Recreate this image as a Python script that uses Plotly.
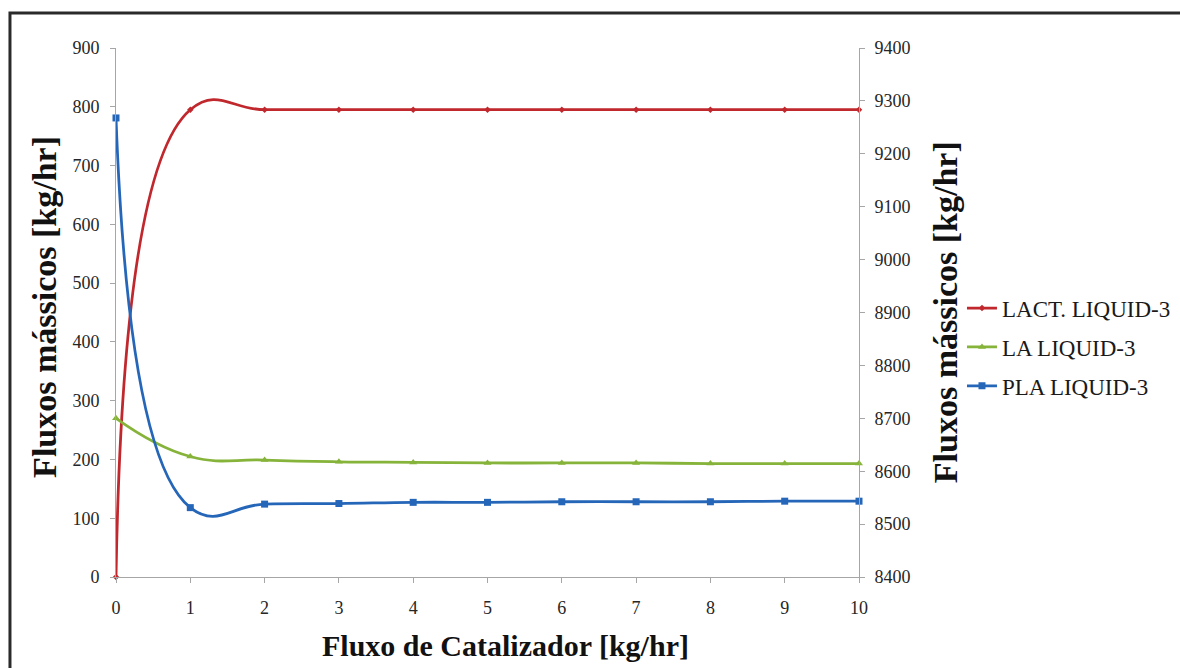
import plotly.graph_objects as go

catalyst = [0, 1, 2, 3, 4, 5, 6, 7, 8, 9, 10]
lact = [0, 795, 795, 795, 795, 795, 795, 795, 795, 795, 795]
la = [270, 205, 199, 196, 195, 194, 194, 194, 193, 193, 193]
pla = [781, 118, 124, 125, 127, 127, 128, 128, 128, 129, 129]

series_names = ["LACT. LIQUID-3", "LA LIQUID-3", "PLA LIQUID-3"]
series_colors = ["#c0282d", "#86b33a", "#2566b8"]
series_symbols = ["diamond", "triangle-up", "square"]
series_sizes = [5, 7, 7]

left_range = [0, 900]
right_range = [8400, 9400]

fig = go.Figure()
for i, (name, vals) in enumerate(zip(series_names, [lact, la, pla])):
    fig.add_trace(go.Scatter(
        x=catalyst, y=vals, name=name, mode="lines+markers",
        line=dict(color=series_colors[i], width=2.8, shape="spline", smoothing=1.3),
        marker=dict(color=series_colors[i], symbol=series_symbols[i], size=series_sizes[i]),
        legendgroup=name, cliponaxis=False,
    ))
# placeholder trace so the secondary axis is drawn
fig.add_trace(go.Scatter(x=[None], y=[None], yaxis="y2", showlegend=False, hoverinfo="skip"))

tick_font = dict(family="Liberation Serif, Times New Roman, serif", size=18, color="#262626")
axis_col = "#a6a6a6"

fig.update_layout(
    width=1200, height=668,
    margin=dict(l=116, r=341, t=48, b=91),
    paper_bgcolor="white", plot_bgcolor="white",
    showlegend=True,
    legend=dict(
        x=1.1386, y=0.549, xanchor="left", yanchor="top",
        font=dict(family="Liberation Serif, Times New Roman, serif", size=23, color="#1a1a1a"),
        itemwidth=30, tracegroupgap=6, traceorder="grouped",
        bgcolor="rgba(0,0,0,0)",
    ),
    xaxis=dict(
        range=[0, 10], dtick=1, tick0=0, showgrid=False, zeroline=False,
        showline=True, linecolor=axis_col, linewidth=1,
        ticks="outside", ticklen=5, tickcolor=axis_col,
        tickfont=tick_font, ticklabelstandoff=9,
    ),
    yaxis=dict(
        range=left_range, dtick=100, showgrid=False, zeroline=False,
        showline=True, linecolor=axis_col, linewidth=1,
        ticks="outside", ticklen=5, tickcolor=axis_col,
        tickfont=tick_font, ticklabelstandoff=7,
    ),
    yaxis2=dict(
        range=right_range, dtick=100, overlaying="y", side="right",
        showgrid=False, zeroline=False,
        showline=True, linecolor=axis_col, linewidth=1,
        ticks="outside", ticklen=5, tickcolor=axis_col,
        tickfont=tick_font, ticklabelstandoff=6,
    ),
)

title_font_x = dict(family="Liberation Serif, Times New Roman, serif", size=30, color="#111111")
title_font_y = dict(family="Liberation Serif, Times New Roman, serif", size=34, color="#111111")
fig.add_annotation(text="<b>Fluxo de Catalizador [kg/hr]</b>", xref="paper", yref="paper",
                   x=0.5236, y=-0.129, xanchor="center", yanchor="middle",
                   showarrow=False, font=title_font_x)
fig.add_annotation(text="<b>Fluxos mássicos [kg/hr]</b>", xref="paper", yref="paper",
                   x=-0.096, y=0.51, xanchor="center", yanchor="middle", textangle=-90,
                   showarrow=False, font=title_font_y)
fig.add_annotation(text="<b>Fluxos mássicos [kg/hr]</b>", xref="paper", yref="paper",
                   x=1.1167, y=0.50, xanchor="center", yanchor="middle", textangle=-90,
                   showarrow=False, font=title_font_y)

# outer frame (only top and left edges visible in the picture)
fig.add_shape(type="rect", xref="paper", yref="paper",
              x0=-0.1427, y0=-0.5, x1=1.6, y1=1.0662,
              line=dict(color="#2a2a2a", width=3), layer="below")

fig.write_html(
    "out.html",
    config={"displayModeBar": False},
    post_script="document.body.style.margin='0';document.body.style.overflow='hidden';"
                "document.documentElement.style.overflow='hidden';",
)
